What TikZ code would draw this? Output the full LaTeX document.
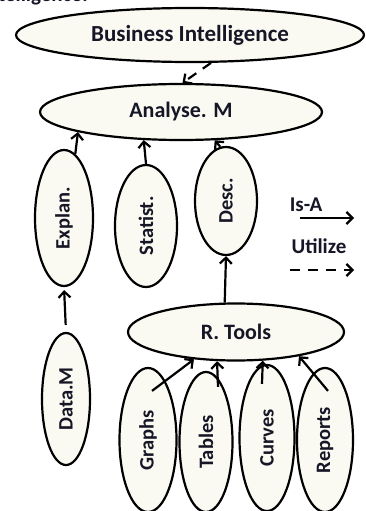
\documentclass[tikz,border=0pt]{standalone}
\usepackage{fontspec}
\setmainfont{Carlito}
\usetikzlibrary{shapes.geometric,arrows.meta}
\definecolor{ink}{RGB}{22,22,38}
\definecolor{cream}{RGB}{250,250,242}
\tikzset{
  oval/.style={ellipse, draw=black, line width=2.2pt, fill=cream, inner sep=0pt,
               text=ink, font=\bfseries\fontsize{20.5}{22}\selectfont},
  isa/.style={line width=2.2pt, -{Straight Barb[length=6pt,width=12pt,line width=2.2pt]}},
  uses/.style={isa, dash pattern=on 10pt off 8pt},
  legtext/.style={text=ink, font=\bfseries\fontsize{21}{23}\selectfont, inner sep=0pt}
}
\begin{document}
\begin{tikzpicture}[x=1pt,y=-1pt]
\useasboundingbox (0,0) rectangle (365,511);

% caption line running above the frame
\node[legtext, anchor=base east] (cap) at (88,1.2) {Intelligence:};

% top level
\node[oval, minimum width=348pt, minimum height=54pt, font=\bfseries\fontsize{23}{25}\selectfont]
  (BI) at (190,35) {Business Intelligence};
\node[oval, minimum width=282pt, minimum height=56pt, font=\bfseries\fontsize{22}{24}\selectfont]
  (AM) at (181,112) {Analyse. M};

% analysis methods
\node[oval, minimum width=58pt, minimum height=136pt] (EX) at (64,218)
  {\rotatebox{90}{Explan.}};
\node[oval, minimum width=62pt, minimum height=122pt] (ST) at (146,226)
  {\rotatebox{90}{Statist.}};
\node[oval, minimum width=62pt, minimum height=108pt] (DE) at (226,201)
  {\rotatebox{90}{Desc.}};
\node[oval, minimum width=48pt, minimum height=132pt] (DM) at (66,399)
  {\rotatebox{90}{Data.M}};

% reporting tools
\node[oval, minimum width=216pt, minimum height=57pt, font=\bfseries\fontsize{22}{24}\selectfont]
  (RT) at (236,332) {R. Tools};
\node[oval, minimum width=57pt, minimum height=144pt] (GR) at (148,440)
  {\rotatebox{90}{Graphs}};
\node[oval, minimum width=53pt, minimum height=140pt] (TA) at (206,442)
  {\rotatebox{90}{Tables}};
\node[oval, minimum width=55pt, minimum height=146pt] (CU) at (267,438)
  {\rotatebox{90}{Curves}};
\node[oval, minimum width=56pt, minimum height=144pt] (RE) at (325,440)
  {\rotatebox{90}{Reports}};

% connectors
\draw[uses] (BI.307) -- (AM.87);
\draw[isa] (EX.80) -- (AM.191);
\draw[isa] (ST.north) -- (AM.217);
\draw[isa] (DE.96) -- (AM.320);
\draw[isa, shorten <=7pt, shorten >=3pt] (DM.north) -- (EX.south);
\draw[isa] (RT.111) -- (DE.south);
\draw[isa] ([xshift=4pt,yshift=-24pt]GR.north) -- (RT.213);
\draw[isa] ([xshift=12pt,yshift=-16pt]TA.north) -- (RT.237);
\draw[isa] ([xshift=-5pt,yshift=-20pt]CU.north) -- (RT.313);
\draw[isa] ([xshift=3pt,yshift=-24pt]RE.north) -- (RT.339);

% legend
\node[legtext] (lisa) at (306,204.5) {Is-A};
\coordinate (isaA) at (300,218);
\coordinate (isaB) at (354,218);
\draw[isa] (isaA) -- (isaB);
\node[legtext] (luse) at (319,246) {Utilize};
\coordinate (useA) at (290,270);
\coordinate (useB) at (354,270);
\draw[uses] (useA) -- (useB);
\end{tikzpicture}
\end{document}
